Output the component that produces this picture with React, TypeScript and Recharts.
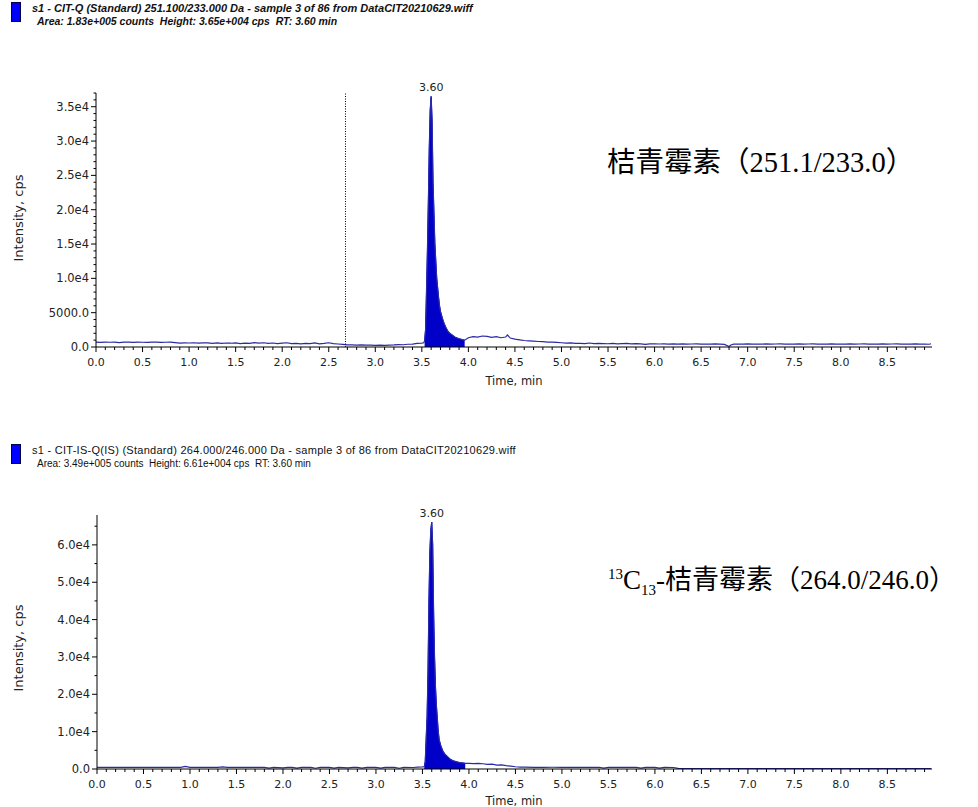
import { ComposedChart, Line, Area, XAxis, YAxis, ReferenceLine, ReferenceDot } from 'recharts';

// time (min), intensity (cps)
const citBaselineBefore: [number, number][] = [
  [0.0, 700], [0.05, 680], [0.1, 720], [0.15, 690], [0.2, 700], [0.25, 650], [0.3, 700], [0.35, 720],
  [0.4, 680], [0.45, 700], [0.5, 690], [0.55, 660], [0.6, 700], [0.65, 710], [0.7, 680], [0.75, 690],
  [0.8, 720], [0.85, 650], [0.9, 560], [0.95, 600], [1.0, 580], [1.05, 620], [1.1, 560], [1.15, 600],
  [1.2, 590], [1.25, 540], [1.3, 600], [1.35, 520], [1.4, 580], [1.45, 550], [1.5, 600], [1.55, 500],
  [1.6, 560], [1.65, 520], [1.7, 640], [1.75, 560], [1.8, 620], [1.85, 520], [1.9, 580], [1.95, 500],
  [2.0, 560], [2.05, 620], [2.1, 480], [2.15, 520], [2.2, 460], [2.25, 540], [2.3, 480], [2.35, 600],
  [2.4, 460], [2.45, 520], [2.5, 620], [2.55, 480], [2.6, 440], [2.65, 380], [2.7, 320], [2.75, 300],
  [2.8, 280], [2.85, 300], [2.9, 260], [2.95, 280], [3.0, 250], [3.05, 270], [3.1, 240], [3.15, 280],
  [3.2, 300], [3.25, 340], [3.3, 330], [3.35, 400], [3.4, 420], [3.45, 520], [3.5, 560], [3.52, 620],
];
const citPeak: [number, number][] = [
  [3.53, 900], [3.54, 2500], [3.55, 8000], [3.56, 14000], [3.57, 21000], [3.58, 29000], [3.59, 34500],
  [3.6, 36500], [3.61, 33000], [3.62, 24000], [3.63, 19500], [3.64, 15000], [3.65, 12500], [3.66, 10000],
  [3.67, 8600], [3.68, 7200], [3.69, 6000], [3.7, 5200], [3.72, 4200], [3.74, 3400], [3.76, 2800],
  [3.78, 2300], [3.8, 2000], [3.83, 1700], [3.86, 1400], [3.9, 1200], [3.94, 1050], [3.96, 1000],
];
const citBaselineAfter: [number, number][] = [
  [4.0, 1350], [4.05, 1500], [4.1, 1450], [4.15, 1600], [4.2, 1550], [4.25, 1400], [4.3, 1500], [4.35, 1350],
  [4.4, 1450], [4.42, 1750], [4.45, 1300], [4.5, 1150], [4.55, 1050], [4.6, 950], [4.65, 900], [4.7, 850],
  [4.75, 800], [4.8, 780], [4.85, 720], [4.9, 700], [4.95, 660], [5.0, 620], [5.05, 560], [5.1, 600],
  [5.15, 520], [5.2, 540], [5.25, 500], [5.3, 580], [5.35, 480], [5.4, 540], [5.45, 500], [5.5, 470],
  [5.55, 520], [5.6, 460], [5.65, 500], [5.7, 540], [5.75, 460], [5.8, 500], [5.85, 460], [5.9, 380],
  [5.95, 450], [6.0, 470], [6.05, 440], [6.1, 460], [6.15, 420], [6.2, 450], [6.25, 430], [6.3, 460],
  [6.35, 420], [6.4, 440], [6.45, 450], [6.5, 420], [6.55, 440], [6.6, 430], [6.65, 450], [6.7, 420],
  [6.75, 380], [6.8, 80], [6.82, 300], [6.85, 420], [6.9, 440], [6.95, 430], [7.0, 450], [7.05, 420],
  [7.1, 440], [7.15, 430], [7.2, 450], [7.25, 420], [7.3, 440], [7.35, 460], [7.4, 430], [7.45, 440],
  [7.5, 420], [7.55, 450], [7.6, 430], [7.65, 440], [7.7, 460], [7.75, 420], [7.8, 440], [7.85, 430],
  [7.9, 450], [7.95, 420], [8.0, 440], [8.05, 430], [8.1, 460], [8.15, 420], [8.2, 440], [8.25, 450],
  [8.3, 430], [8.35, 440], [8.4, 420], [8.45, 450], [8.5, 430], [8.55, 440], [8.6, 460], [8.65, 420],
  [8.7, 440], [8.75, 430], [8.8, 450], [8.85, 430], [8.9, 440], [8.95, 400], [8.97, 480],
];

const isBaselineBefore: [number, number][] = [
  [0.0, 450], [0.1, 460], [0.2, 440], [0.3, 460], [0.4, 450], [0.5, 440], [0.6, 460], [0.7, 450],
  [0.8, 440], [0.9, 460], [0.95, 700], [1.0, 450], [1.1, 440], [1.2, 460], [1.3, 450], [1.35, 550],
  [1.4, 440], [1.5, 450], [1.6, 460], [1.7, 440], [1.8, 450], [1.85, 250], [1.9, 440], [2.0, 300],
  [2.05, 450], [2.1, 420], [2.15, 250], [2.2, 450], [2.3, 440], [2.35, 200], [2.4, 430], [2.5, 450],
  [2.55, 250], [2.6, 440], [2.7, 300], [2.75, 450], [2.8, 420], [2.85, 250], [2.9, 430], [3.0, 440],
  [3.05, 250], [3.1, 420], [3.2, 450], [3.25, 200], [3.3, 420], [3.4, 400], [3.45, 500], [3.5, 550],
  [3.52, 600],
];
const isPeak: [number, number][] = [
  [3.53, 2000], [3.54, 8000], [3.55, 14000], [3.56, 26000], [3.57, 45000], [3.58, 58000], [3.59, 64000],
  [3.6, 66100], [3.61, 60000], [3.62, 42000], [3.63, 30000], [3.64, 22000], [3.65, 17000], [3.66, 13500],
  [3.67, 10000], [3.68, 7800], [3.7, 6000], [3.72, 4800], [3.74, 4000], [3.77, 3300], [3.8, 2600],
  [3.83, 2200], [3.87, 1900], [3.9, 1700], [3.94, 1600], [3.96, 1500],
];
const isBaselineAfter: [number, number][] = [
  [4.0, 1500], [4.05, 1450], [4.1, 1500], [4.15, 1400], [4.2, 1250], [4.25, 1300], [4.3, 1050], [4.35, 1100],
  [4.4, 900], [4.45, 750], [4.5, 600], [4.55, 500], [4.6, 480], [4.7, 460], [4.8, 450], [4.9, 470],
  [5.0, 450], [5.1, 460], [5.2, 440], [5.3, 450], [5.4, 460], [5.45, 250], [5.5, 440], [5.6, 450],
  [5.7, 460], [5.8, 440], [5.85, 250], [5.9, 440], [6.0, 430], [6.05, 250], [6.1, 420], [6.2, 400],
  [6.25, 150], [6.3, 120], [6.5, 110], [7.0, 120], [7.5, 110], [8.0, 120], [8.5, 110], [8.97, 120],
];

const xTickValues = [
  0, 0.1, 0.2, 0.3, 0.4, 0.5, 0.6, 0.7, 0.8, 0.9, 1, 1.1, 1.2, 1.3, 1.4, 1.5, 1.6, 1.7, 1.8, 1.9,
  2, 2.1, 2.2, 2.3, 2.4, 2.5, 2.6, 2.7, 2.8, 2.9, 3, 3.1, 3.2, 3.3, 3.4, 3.5, 3.6, 3.7, 3.8, 3.9,
  4, 4.1, 4.2, 4.3, 4.4, 4.5, 4.6, 4.7, 4.8, 4.9, 5, 5.1, 5.2, 5.3, 5.4, 5.5, 5.6, 5.7, 5.8, 5.9,
  6, 6.1, 6.2, 6.3, 6.4, 6.5, 6.6, 6.7, 6.8, 6.9, 7, 7.1, 7.2, 7.3, 7.4, 7.5, 7.6, 7.7, 7.8, 7.9,
  8, 8.1, 8.2, 8.3, 8.4, 8.5, 8.6, 8.7, 8.8, 8.9,
];
const topYTicks = [
  0, 1000, 2000, 3000, 4000, 5000, 6000, 7000, 8000, 9000, 10000, 11000, 12000, 13000, 14000, 15000,
  16000, 17000, 18000, 19000, 20000, 21000, 22000, 23000, 24000, 25000, 26000, 27000, 28000, 29000,
  30000, 31000, 32000, 33000, 34000, 35000, 36000, 37000,
];
const bottomYTicks = [0, 5000, 10000, 15000, 20000, 25000, 30000, 35000, 40000, 45000, 50000, 55000, 60000, 65000];

const HEAD_FONT = '"Liberation Sans", Arial, sans-serif';
const AXIS_FONT = '"DejaVu Sans", Verdana, sans-serif';
const TRACE = '#2a2aa6';
const FILL = '#0000c8';

const toRows = (pts: [number, number][], from: number, to: number) =>
  pts.map(([t, v]) => ({ t, v, peak: t >= from && t <= to ? v : null }));

const topData = toRows([...citBaselineBefore, ...citPeak, ...citBaselineAfter], 3.53, 3.96);
const bottomData = toRows([...isBaselineBefore, ...isPeak, ...isBaselineAfter], 3.52, 3.96);

const near = (v: number, step: number) => Math.abs(v / step - Math.round(v / step)) < 1e-6;

function XTick(props: any) {
  const { x, y, payload } = props;
  const v = payload.value as number;
  const major = near(v, 0.5);
  return (
    <g>
      <line x1={x} x2={x} y1={y} y2={y + (major ? 5 : 3)} stroke="#000" />
      {major && (
        <text x={x} y={y + 15} textAnchor="middle" dominantBaseline="central" fontSize={11} fill="#222" fontFamily={AXIS_FONT}>
          {v.toFixed(1)}
        </text>
      )}
    </g>
  );
}

const yLabel = (v: number) => (v === 0 ? '0.0' : v < 10000 ? v.toFixed(1) : (v / 10000).toFixed(1) + 'e4');

function makeYTick(majorStep: number) {
  return function YTick(props: any) {
    const { x, y, payload } = props;
    const v = payload.value as number;
    const major = near(v, majorStep);
    return (
      <g>
        <line x1={x} x2={x - (major ? 5 : 2.5)} y1={y} y2={y} stroke="#000" />
        {major && (
          <text x={x - 7} y={y} textAnchor="end" dominantBaseline="central" fontSize={11.5} fill="#222" fontFamily={AXIS_FONT}>
            {yLabel(v)}
          </text>
        )}
      </g>
    );
  };
}

const abs = (left: number, top: number, extra: any = {}) => ({
  position: 'absolute' as const,
  left,
  top,
  whiteSpace: 'pre' as const,
  ...extra,
});

function Header({ top, bold, line1, line2 }: { top: number; bold: boolean; line1: string; line2: string }) {
  const base = { fontFamily: HEAD_FONT, fontWeight: bold ? 700 : 400, fontStyle: bold ? 'italic' : 'normal', color: '#111', lineHeight: '13px' };
  const first = bold ? { ...base, fontSize: 11 } : { ...base, fontSize: 11, letterSpacing: '0.27px' };
  const second = bold ? { ...base, fontSize: 10.5 } : { ...base, fontSize: 10 };
  return (
    <>
      <div style={abs(11, top, { width: 8, height: 18, background: '#0000ff', border: '1px solid #000044' })} />
      <div style={abs(32, top, first)}>{line1}</div>
      <div style={abs(37, top + 13, second)}>{line2}</div>
    </>
  );
}

function AxisTitles({ yCenter, timeCenter }: { yCenter: number; timeCenter: number }) {
  return (
    <>
      <div style={abs(18, yCenter, { fontFamily: AXIS_FONT, fontSize: 13, color: '#222', transform: 'translate(-50%, -50%) rotate(-90deg)' })}>
        Intensity, cps
      </div>
      <div style={abs(514, timeCenter - 7, { fontFamily: AXIS_FONT, fontSize: 11.5, lineHeight: '14px', color: '#222', transform: 'translateX(-50%)' })}>
        Time, min
      </div>
    </>
  );
}

export default function App() {
  const cjk = { fontFamily: '"Liberation Serif", "Noto Sans CJK SC", serif', fontSize: 28.5, color: '#000', lineHeight: '32px' };
  const cjk2 = { ...cjk, fontSize: 27 };
  const small = { fontSize: 15, position: 'relative' as const };
  return (
    <div style={{ position: 'absolute', left: 0, top: 0, width: 978, height: 807, overflow: 'hidden', background: '#fff' }}>
      <div style={abs(0, 0)}>
        <ComposedChart width={978} height={400} data={topData} margin={{ top: 93, right: 46, bottom: 0, left: 0 }}>
          <XAxis dataKey="t" type="number" domain={[0, 8.98]} ticks={xTickValues} interval={0} tick={XTick}
            tickLine={false} tickSize={0} tickMargin={0} height={53} stroke="#000" allowDataOverflow />
          <YAxis type="number" domain={[0, 37000]} ticks={topYTicks} interval={0} tick={makeYTick(5000)}
            tickLine={false} tickSize={0} tickMargin={0} width={96} stroke="#000" allowDataOverflow />
          <Area dataKey="peak" type="linear" fill={FILL} fillOpacity={1} stroke={FILL} strokeWidth={1} isAnimationActive={false} />
          <Line dataKey="v" type="linear" stroke={TRACE} strokeWidth={1.2} dot={false} isAnimationActive={false} />
          <ReferenceLine x={2.68} stroke="#000" strokeDasharray="1 1.5" />
          <ReferenceDot x={3.6} y={36500} r={0} stroke="none"
            label={{ value: '3.60', position: 'top', fontSize: 11, fill: '#222', fontFamily: AXIS_FONT }} />
        </ComposedChart>
      </div>
      <div style={abs(0, 420)}>
        <ComposedChart width={978} height={387} data={bottomData} margin={{ top: 95, right: 46, bottom: 0, left: 0 }}>
          <XAxis dataKey="t" type="number" domain={[0, 8.98]} ticks={xTickValues} interval={0} tick={XTick}
            tickLine={false} tickSize={0} tickMargin={0} height={38} stroke="#000" allowDataOverflow />
          <YAxis type="number" domain={[0, 68000]} ticks={bottomYTicks} interval={0} tick={makeYTick(10000)}
            tickLine={false} tickSize={0} tickMargin={0} width={97} stroke="#000" allowDataOverflow />
          <Area dataKey="peak" type="linear" fill={FILL} fillOpacity={1} stroke={FILL} strokeWidth={1} isAnimationActive={false} />
          <Line dataKey="v" type="linear" stroke={TRACE} strokeWidth={1.2} dot={false} isAnimationActive={false} />
          <ReferenceDot x={3.6} y={66100} r={0} stroke="none"
            label={{ value: '3.60', position: 'top', fontSize: 11, fill: '#222', fontFamily: AXIS_FONT }} />
        </ComposedChart>
      </div>

      <Header top={2} bold line1="s1 - CIT-Q (Standard) 251.100/233.000 Da - sample 3 of 86 from DataCIT20210629.wiff"
        line2="Area: 1.83e+005 counts  Height: 3.65e+004 cps  RT: 3.60 min" />
      <Header top={444} bold={false} line1="s1 - CIT-IS-Q(IS) (Standard) 264.000/246.000 Da - sample 3 of 86 from DataCIT20210629.wiff"
        line2="Area: 3.49e+005 counts  Height: 6.61e+004 cps  RT: 3.60 min" />

      <AxisTitles yCenter={218} timeCenter={381} />
      <AxisTitles yCenter={648} timeCenter={801} />

      <div style={abs(607, 147, cjk)}>桔青霉素（251.1/233.0）</div>
      <div style={abs(608, 564, cjk2)}>
        <span style={{ ...small, top: -10 }}>13</span>C<span style={{ ...small, top: 6 }}>13</span>-桔青霉素（264.0/246.0）
      </div>
    </div>
  );
}
